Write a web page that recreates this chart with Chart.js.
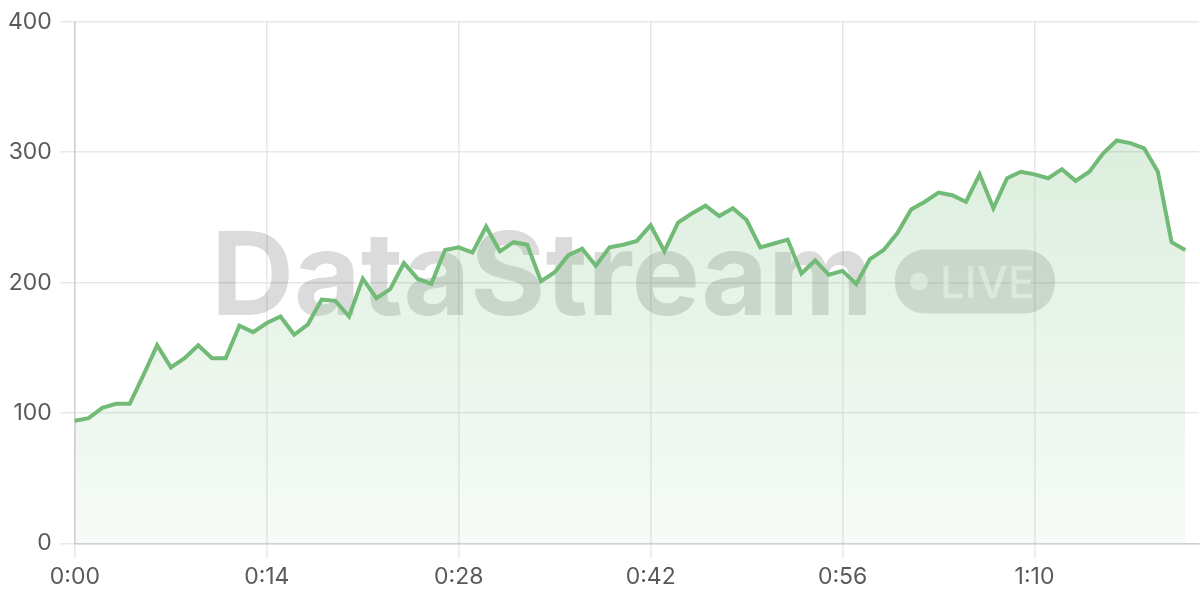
<!DOCTYPE html>
<html>
<head>
<meta charset="utf-8">
<script src="https://cdn.jsdelivr.net/npm/chart.js@4.4.1/dist/chart.umd.min.js"></script>
<style>
    html, body { margin: 0; padding: 0; background: #fff; }
    #wrap { width: 1200px; height: 600px; }
</style>
</head>
<body>
<div id="wrap"><canvas id="live-chart"></canvas></div>
<script>
// elapsed time labels, one per sample (m:ss)
const timeLabels = [
    '0:00','0:01','0:02','0:03','0:04','0:05','0:06','0:07','0:08','0:09',
    '0:10','0:11','0:12','0:13','0:14','0:15','0:16','0:17','0:18','0:19',
    '0:20','0:21','0:22','0:23','0:24','0:25','0:26','0:27','0:28','0:29',
    '0:30','0:31','0:32','0:33','0:34','0:35','0:36','0:37','0:38','0:39',
    '0:40','0:41','0:42','0:43','0:44','0:45','0:46','0:47','0:48','0:49',
    '0:50','0:51','0:52','0:53','0:54','0:55','0:56','0:57','0:58','0:59',
    '1:00','1:01','1:02','1:03','1:04','1:05','1:06','1:07','1:08','1:09',
    '1:10','1:11','1:12','1:13','1:14','1:15','1:16','1:17','1:18','1:19',
    '1:20','1:21','1:22'
];
const shownTicks = ['0:00', '0:14', '0:28', '0:42', '0:56', '1:10'];
const streamValues = [
    94, 96, 104, 107, 107, 129, 152, 135, 142, 152,
    142, 142, 167, 162, 169, 174, 160, 168, 187, 186,
    174, 203, 188, 195, 215, 203, 199, 225, 227, 223,
    243, 224, 231, 229, 201, 208, 221, 226, 213, 227,
    229, 232, 244, 224, 246, 253, 259, 251, 257, 248,
    227, 230, 233, 207, 217, 206, 209, 199, 218, 225,
    238, 256, 262, 269, 267, 262, 283, 257, 280, 285,
    283, 280, 287, 278, 285, 299, 309, 307, 303, 285,
    231, 225
];
const yTicks = [0, 100, 200, 300, 400];

const watermark = {
    id: 'watermark',
    beforeDatasetsDraw(chart) {
        const ctx = chart.ctx;
        const area = chart.chartArea;
        const cx = (area.left + area.right) / 2;
        const cy = (area.top + area.bottom) / 2;
        ctx.save();
        ctx.font = 'bold 115px Inter, "Open Sans", sans-serif';
        ctx.textBaseline = 'alphabetic';
        const word = 'DataStream';
        const wordW = ctx.measureText(word).width;
        const pillW = 160, pillH = 64, gap = 22;
        const startX = cx - (wordW + gap + pillW) / 2 - 4;
        ctx.fillStyle = 'rgba(0,0,0,0.14)';
        ctx.fillText(word, startX, cy + 32);
        // LIVE pill
        const px = startX + wordW + gap;
        const py = cy - 33;
        ctx.beginPath();
        ctx.roundRect(px, py, pillW, pillH, 30);
        ctx.fillStyle = 'rgba(0,0,0,0.13)';
        ctx.fill();
        ctx.fillStyle = 'rgba(255,255,255,0.6)';
        ctx.beginPath();
        ctx.arc(px + 24, py + pillH / 2, 9, 0, Math.PI * 2);
        ctx.fill();
        ctx.font = '500 44px Inter, "Open Sans", sans-serif';
        ctx.fillText('LIVE', px + 45, py + pillH / 2 + 16);
        ctx.restore();
    }
};

const config = {
    type: 'line',
    data: {
        labels: timeLabels,
        datasets: [{
            data: streamValues,
            borderColor: '#71bb77',
            borderWidth: 4,
            pointRadius: 0,
            tension: 0,
            fill: 'origin',
            backgroundColor: function (context) {
                const area = context.chart.chartArea;
                if (!area) {
                    return 'rgba(113,187,119,0.15)';
                }
                const g = context.chart.ctx.createLinearGradient(0, area.top, 0, area.bottom);
                g.addColorStop(0, 'rgba(113,187,119,0.30)');
                g.addColorStop(1, 'rgba(113,187,119,0.06)');
                return g;
            }
        }]
    },
    options: {
        responsive: true,
        maintainAspectRatio: false,
        animation: false,
        layout: { padding: { top: 8, right: 1, left: 0, bottom: 4 } },
        plugins: {
            legend: { display: false },
            tooltip: { enabled: false }
        },
        scales: {
            x: {
                offset: false,
                border: { color: '#cfcfcf', width: 1.5 },
                grid: { color: '#e8e8e8', lineWidth: 1.5, tickLength: 15 },
                ticks: {
                    autoSkip: false,
                    maxRotation: 0,
                    padding: 5,
                    color: '#5a5a5a',
                    font: { family: 'Inter', size: 23 },
                    callback: function (value) {
                        const lbl = this.getLabelForValue(value);
                        return shownTicks.includes(lbl) ? lbl : null;
                    }
                }
            },
            y: {
                min: yTicks[0],
                max: yTicks[yTicks.length - 1],
                border: { color: '#cfcfcf', width: 1.5 },
                grid: { color: '#e8e8e8', lineWidth: 1.5, tickLength: 15 },
                afterBuildTicks: function (axis) {
                    axis.ticks = yTicks.map(v => ({ value: v }));
                },
                ticks: {
                    padding: 8,
                    color: '#5a5a5a',
                    font: { family: 'Inter', size: 23 }
                }
            }
        }
    },
    plugins: [watermark]
};

new Chart(document.getElementById('live-chart'), config);
</script>
</body>
</html>
